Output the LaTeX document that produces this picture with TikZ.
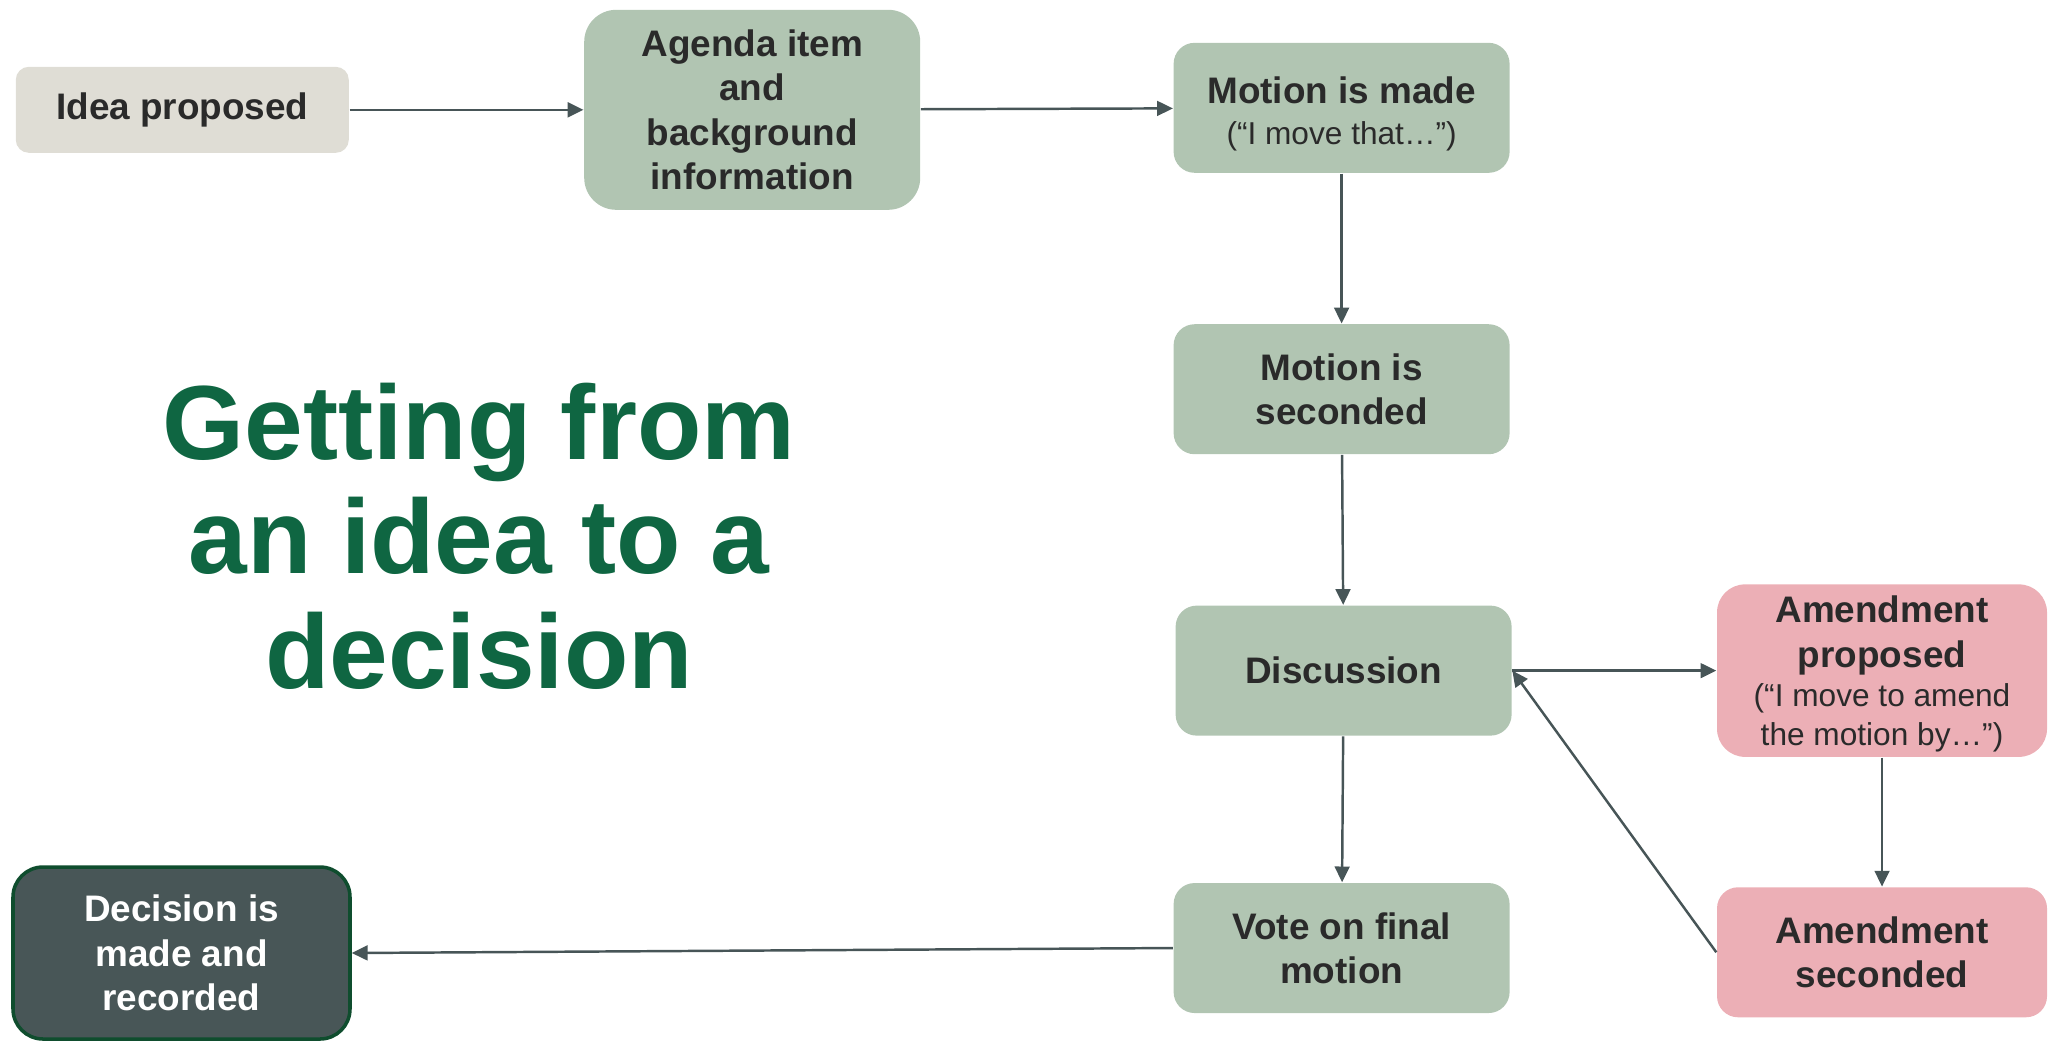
\documentclass[tikz,border=0pt]{standalone}
\usepackage{fontspec}
\setmainfont{Liberation Sans}
\usetikzlibrary{positioning,arrows.meta}

\definecolor{sage}{HTML}{B1C5B2}
\definecolor{blush}{HTML}{ECAFB6}
\definecolor{stone}{HTML}{DFDDD5}
\definecolor{slate}{HTML}{485657}
\definecolor{pine}{HTML}{0F4D2E}
\definecolor{forest}{HTML}{0F6642}
\definecolor{ink}{HTML}{2A2A2A}
\definecolor{wire}{HTML}{475557}

\newcommand{\saidfont}{\mdseries\fontsize{9}{10.8}\selectfont}

\begin{document}
\begin{tikzpicture}[
      step box/.style={rectangle, rounded corners=0.21cm, fill=sage, text=ink, align=center,
        minimum width=3.36cm, minimum height=1.30cm, inner sep=2pt,
        font=\fontsize{10.5}{12.6}\selectfont\bfseries},
      amend box/.style={step box, fill=blush, minimum width=3.30cm},
      arrow/.style={->, >={Triangle[length=4.5pt,width=4.2pt]}, draw=wire, line width=0.7pt}
    ]

    \useasboundingbox (0,0) rectangle (20.49,-10.41);

    % Top row: idea, agenda, motion
    \node[step box, fill=stone, minimum width=3.33cm, minimum height=0.86cm, rounded corners=0.13cm]
      (idea) at (1.823,-1.098) {Idea proposed};

    \node[step box, minimum height=2.0cm, rounded corners=0.32cm, right=2.34cm of idea] (agenda)
      {Agenda item\\ and\\ background\\ information};

    \node[step box, right=2.52cm of agenda, yshift=0.02cm, text depth=0pt, text height=21pt] (motion)
      {Motion is made\\[-1pt] \saidfont(“I move that…”)};

    % Right column
    \node[step box, below=1.50cm of motion] (seconded) {Motion is\\ seconded};

    \node[step box, below=1.50cm of seconded, xshift=0.02cm] (discussion) {Discussion};

    \node[step box, below=1.46cm of discussion, xshift=-0.02cm] (vote) {Vote on final\\ motion};

    % Amendment loop
    \node[amend box, minimum height=1.725cm, inner ysep=0.5pt, text depth=0pt, rounded corners=0.28cm,
      right=2.04cm of discussion] (amend)
      {Amendment\\ proposed\\[-1.5pt] \saidfont(“I move to amend\\[-1.5pt] \saidfont the motion by…”)};

    \node[amend box, below=1.29cm of amend] (amendsec) {Amendment\\ seconded};

    % End result
    \node[step box, fill=slate, draw=pine, line width=1pt, text=white, minimum width=3.37cm,
      minimum height=1.72cm, rounded corners=0.3cm] (decision) at (1.815,-9.53)
      {Decision is\\ made and\\ recorded};

    % Title
    \node[text=forest, align=center, font=\fontsize{30}{32.6}\selectfont\bfseries]
      (title) at (4.79,-5.36) {Getting from\\ an idea to a\\ decision};

    % Flow
    \draw[arrow] (idea) -- (agenda);
    \draw[arrow] (agenda) -- (motion);
    \draw[arrow] (motion) -- (seconded);
    \draw[arrow] (seconded) -- (discussion);
    \draw[arrow] (discussion.east) -- (amend.west);
    \draw[arrow] (amend) -- (amendsec);
    \draw[arrow] (amendsec.west) -- (discussion.east);
    \draw[arrow] (discussion) -- (vote);
    \draw[arrow] (vote.west) -- (decision.east);

  \end{tikzpicture}
\end{document}
